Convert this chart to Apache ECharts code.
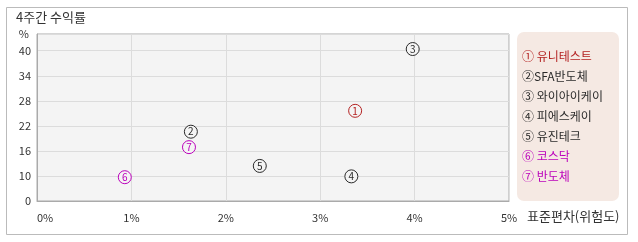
<!DOCTYPE html>
<html>
<head>
<meta charset="utf-8">
<script src="https://cdn.jsdelivr.net/npm/echarts@6/dist/echarts.min.js"></script>
<style>html,body{margin:0;padding:0;background:#fff}#c{width:638px;height:242px}</style>
</head>
<body>
<div id="c"></div>
<script>
// ---- data ----
const title = '4주간 수익률';
const xAxisName = '표준편차(위험도)';
const yAxisName = '%';
const markers = ['1', '2', '3', '4', '5', '6', '7'];
const legendLabels = ['① 유니테스트', '②SFA반도체', '③ 와이아이케이', '④ 피에스케이', '⑤ 유진테크', '⑥ 코스닥', '⑦ 반도체'];
const stdDev = [3.37, 1.63, 3.98, 3.33, 2.36, 0.93, 1.61];   // x, %
const returns4w = [25.6, 20.6, 40.4, 9.9, 12.4, 9.7, 16.9]; // y, %
const colors = ['#b42222', '#2a2a2a', '#2a2a2a', '#2a2a2a', '#2a2a2a', '#bb00bb', '#bb00bb'];
const xTicks = { min: 0, max: 5, step: 1 };
const yTicks = { min: 4, max: 44, step: 6, bottomLabel: '0' };

const FONT = '"Noto Sans CJK KR", "Noto Sans", sans-serif';

const series = legendLabels.map((name, i) => ({
  name: name,
  type: 'scatter',
  data: [[stdDev[i], returns4w[i]]],
  symbol: 'circle',
  symbolSize: 13,
  itemStyle: { color: '#f4f4f4', borderColor: colors[i], borderWidth: 1, opacity: 1 },
  label: {
    show: true, position: 'inside', formatter: markers[i],
    color: colors[i], fontSize: 10, fontFamily: FONT
  },
  emphasis: { disabled: true },
  z: 3
}));

const chart = echarts.init(document.getElementById('c'), null, { renderer: 'canvas' });
chart.setOption({
  animation: false,
  backgroundColor: '#fff',
  textStyle: { fontFamily: FONT },
  grid: {
    left: 37, top: 34, right: 129, bottom: 41,
    show: true, backgroundColor: '#f4f4f4', borderColor: '#aaa', borderWidth: 1
  },
  graphic: [
    { type: 'rect', shape: { x: 6.5, y: 7.5, width: 621, height: 227 },
      style: { fill: null, stroke: '#bbb', lineWidth: 1 }, z: -10, silent: true },
    { type: 'text', left: 16, top: 11,
      style: { text: title, font: '13px ' + FONT, fill: '#333' }, silent: true },
    { type: 'rect', shape: { x: 517, y: 32, width: 102, height: 169, r: 7 },
      style: { fill: '#f5e9e3' }, z: -5, silent: true }
  ],
  legend: {
    orient: 'vertical', left: 517, top: 49,
    itemWidth: 0, itemHeight: 14, itemGap: 7,
    icon: 'none', selectedMode: false,
    padding: 0,
    textStyle: { fontSize: 12, fontFamily: FONT },
    data: legendLabels.map((n, i) => ({ name: n, icon: 'none', textStyle: { color: colors[i] } }))
  },
  xAxis: {
    type: 'value', min: xTicks.min, max: xTicks.max, interval: xTicks.step,
    name: xAxisName, nameLocation: 'end', nameGap: 18,
    nameTextStyle: { color: '#333', fontSize: 13, verticalAlign: 'top', padding: [9, 0, 0, 0] },
    axisLine: { show: true, lineStyle: { color: '#aaa' } },
    axisTick: { show: false },
    axisLabel: { formatter: '{value}%', color: '#333', fontSize: 11, margin: 11, alignMinLabel: 'left' },
    splitLine: { show: true, lineStyle: { color: '#dcdcdc' } }
  },
  yAxis: {
    type: 'value', min: yTicks.min, max: yTicks.max, interval: yTicks.step,
    name: yAxisName, nameLocation: 'end', nameGap: 0,
    nameTextStyle: { color: '#333', fontSize: 11, align: 'right', verticalAlign: 'middle', padding: [0, 8, 0, 0] },
    axisLine: { show: true, lineStyle: { color: '#aaa' } },
    axisTick: { show: false },
    axisLabel: {
      color: '#333', fontSize: 11, margin: 6, showMaxLabel: false,
      formatter: v => (v === yTicks.min ? yTicks.bottomLabel : String(v))
    },
    splitLine: { show: true, lineStyle: { color: '#dcdcdc' } }
  },
  series: series
});
</script>
</body>
</html>
